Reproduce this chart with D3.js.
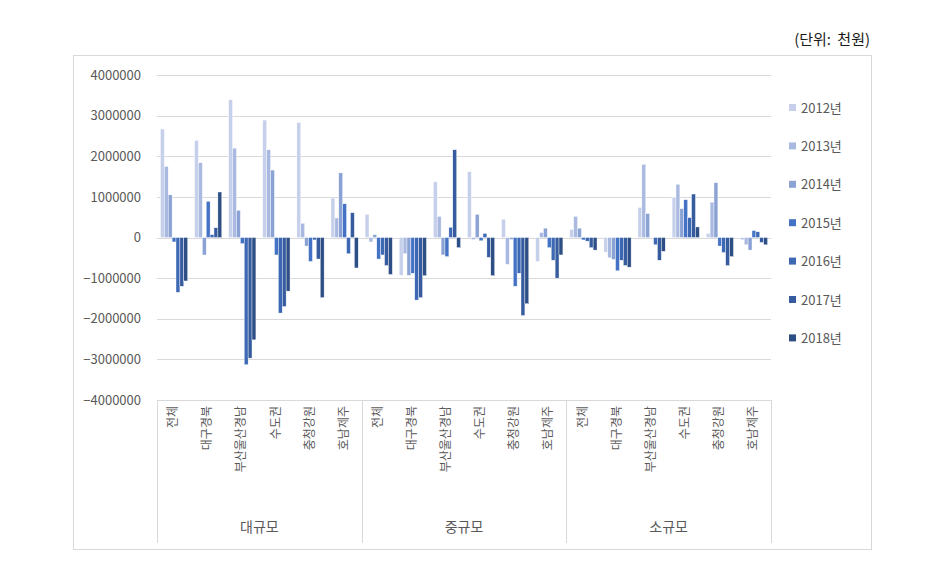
<!DOCTYPE html>
<html>
<head>
<meta charset="utf-8">
<script src="https://cdn.jsdelivr.net/npm/d3@7"></script>
<style>
  body { margin: 0; background: #fff; }
  svg text { font-family: "Noto Sans CJK KR", "Noto Sans", sans-serif; fill: #595959; }
</style>
</head>
<body>
<div id="chart"></div>
<script>
// categories
var sizes = ["대규모", "중규모", "소규모"];
var regions = ["전체", "대구경북", "부산울산경남", "수도권", "충청강원", "호남제주"];
var years = ["2012년", "2013년", "2014년", "2015년", "2016년", "2017년", "2018년"];
var yTicks = [4000000, 3000000, 2000000, 1000000, 0, -1000000, -2000000, -3000000, -4000000];

// series values, 18 per year: 대규모(6 regions), 중규모(6), 소규모(6)
var v2012 = [2670000, 2390000, 3390000, 2890000, 2830000, 970000,
             570000, -930000, 1370000, 1620000, 450000, -590000,
             200000, -360000, 740000, 980000, 100000, -60000];
var v2013 = [1750000, 1840000, 2200000, 2160000, 350000, 480000,
             -110000, -400000, 520000, -50000, -660000, 120000,
             520000, -500000, 1800000, 1310000, 870000, -180000];
var v2014 = [1050000, -430000, 670000, 1660000, -210000, 1590000,
             70000, -930000, -430000, 570000, -50000, 230000,
             230000, -540000, 590000, 710000, 1350000, -310000];
var v2015 = [-110000, 890000, -150000, -430000, -590000, 830000,
             -530000, -880000, -470000, -80000, -1200000, -250000,
             -60000, -820000, 0, 930000, -210000, 170000];
var v2016 = [-1350000, 70000, -3130000, -1860000, -60000, -400000,
             -430000, -1540000, 250000, 100000, -880000, -560000,
             -90000, -560000, -180000, 490000, -370000, 140000];
var v2017 = [-1200000, 240000, -2970000, -1700000, -530000, 610000,
             -690000, -1480000, 2160000, -490000, -1920000, -1000000,
             -250000, -690000, -560000, 1070000, -690000, -120000];
var v2018 = [-1070000, 1120000, -2520000, -1320000, -1480000, -750000,
             -910000, -940000, -250000, -940000, -1630000, -430000,
             -310000, -730000, -340000, 260000, -470000, -180000];

var series = [v2012, v2013, v2014, v2015, v2016, v2017, v2018];
var colors = ["#c6d0ea", "#a9b9df", "#8ba2d4", "#4472c4", "#3d68b4", "#365c9f", "#2e4e86"];

var width = 928, height = 570;
var plotLeft = 157, plotRight = 771, plotTop = 75, plotBottom = 400;

var svg = d3.select("#chart").append("svg")
    .attr("width", width)
    .attr("height", height);

// outer chart border
svg.append("rect")
    .attr("x", 73.5).attr("y", 55.5)
    .attr("width", 798).attr("height", 494)
    .attr("fill", "none")
    .attr("stroke", "#d9d9d9");

// unit label
svg.append("text")
    .attr("x", 870).attr("y", 45)
    .attr("text-anchor", "end")
    .style("font-size", "15px")
    .style("fill", "#1a1a1a")
    .style("word-spacing", "3px")
    .text("(단위: 천원)");

var keys = [];
sizes.forEach(function(s){ regions.forEach(function(r){ keys.push(s + "|" + r); }); });

var x0 = d3.scaleBand().domain(keys).range([plotLeft, plotRight]).padding(0);
var x1 = d3.scaleBand().domain(d3.range(years.length))
    .range([0, x0.bandwidth()]).paddingInner(0).paddingOuter(0.88);
var y = d3.scaleLinear().domain([-4000000, 4000000]).range([plotBottom, plotTop]);

// gridlines
svg.append("g")
    .selectAll("line")
    .data(yTicks)
    .enter().append("line")
    .attr("x1", plotLeft).attr("x2", plotRight)
    .attr("y1", function(d){ return Math.round(y(d)) + 0.5; })
    .attr("y2", function(d){ return Math.round(y(d)) + 0.5; })
    .attr("stroke", "#d9d9d9")
    .attr("stroke-width", 1);

// y axis labels
var yAxis = d3.axisLeft(y).tickValues(yTicks).tickSize(0).tickPadding(16)
    .tickFormat(d3.format("d"));
var yg = svg.append("g")
    .attr("transform", "translate(" + plotLeft + ",0)")
    .call(yAxis);
yg.select(".domain").remove();
yg.selectAll("text").style("font-size", "13px").style("fill", "#595959");

// bars
series.forEach(function(vals, i){
    svg.append("g")
        .selectAll("rect")
        .data(vals)
        .enter().append("rect")
        .attr("x", function(d, j){ return x0(keys[j]) + x1(i); })
        .attr("width", x1.bandwidth())
        .attr("y", function(d){ return y(Math.max(0, d)); })
        .attr("height", function(d){ return Math.abs(y(d) - y(0)); })
        .attr("fill", colors[i])
        .attr("stroke", "#ffffff")
        .attr("stroke-width", 0.4);
});

// multi-level category axis
var axisG = svg.append("g");
var groupW = (plotRight - plotLeft) / sizes.length;
d3.range(sizes.length + 1).forEach(function(k){
    var xx = Math.round(plotLeft + k * groupW) + 0.5;
    axisG.append("line")
        .attr("x1", xx).attr("x2", xx)
        .attr("y1", plotBottom).attr("y2", 543)
        .attr("stroke", "#d9d9d9");
});

axisG.selectAll("text.cat")
    .data(keys)
    .enter().append("text")
    .attr("class", "cat")
    .attr("transform", function(d){
        return "translate(" + (x0(d) + x0.bandwidth() / 2 - 1) + ",406) rotate(-90)";
    })
    .attr("text-anchor", "end")
    .attr("dy", "0.35em")
    .style("font-size", "12px")
    .text(function(d){ return d.split("|")[1]; });

axisG.selectAll("text.grp")
    .data(sizes)
    .enter().append("text")
    .attr("class", "grp")
    .attr("x", function(d, k){ return plotLeft + (k + 0.5) * groupW; })
    .attr("y", 532)
    .attr("text-anchor", "middle")
    .style("font-size", "14px")
    .text(function(d){ return d; });

// legend
var legend = svg.append("g");
years.forEach(function(yr, i){
    var ly = 108 + i * 38.4;
    legend.append("rect")
        .attr("x", 789).attr("y", ly - 4)
        .attr("width", 7).attr("height", 7)
        .attr("fill", colors[i]);
    legend.append("text")
        .attr("x", 801).attr("y", ly)
        .attr("dy", "0.35em")
        .style("font-size", "13px")
        .text(yr);
});
</script>
</body>
</html>
